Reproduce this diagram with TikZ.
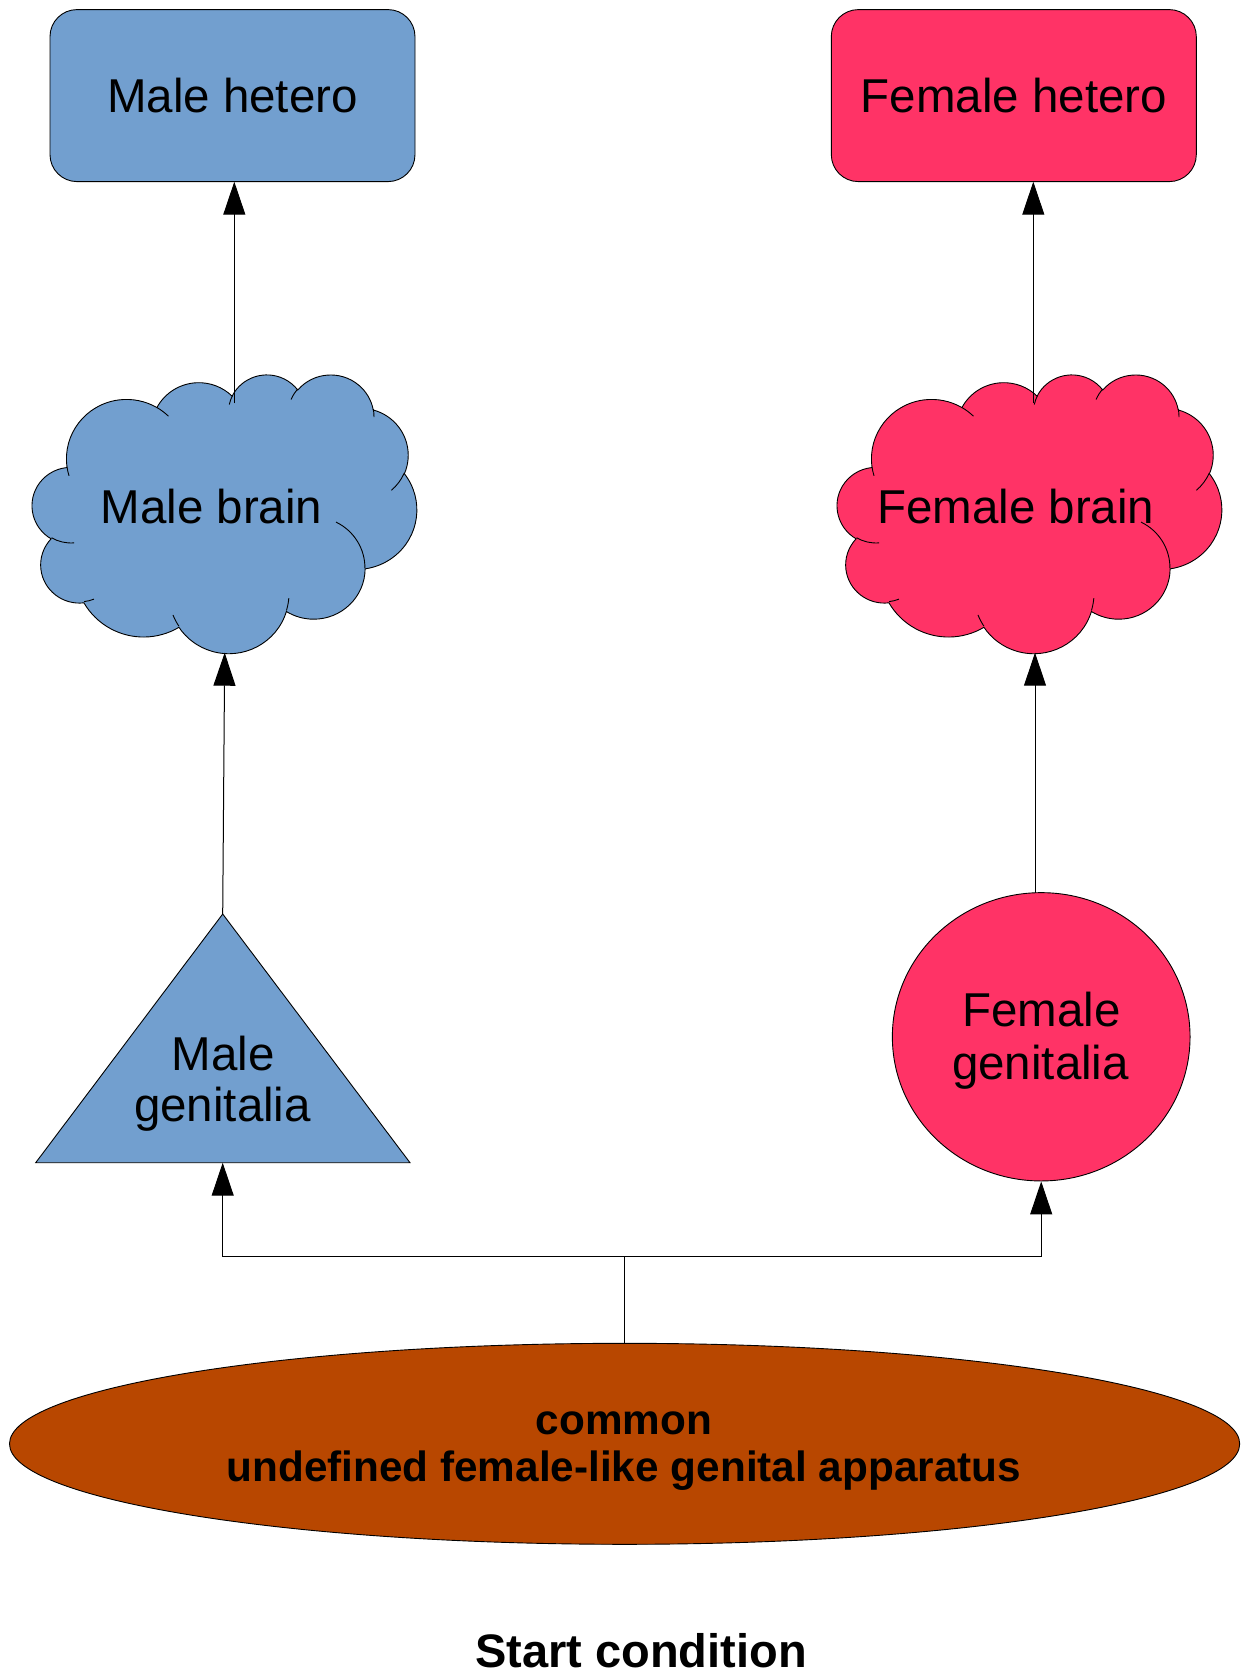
\documentclass[tikz,border=0pt]{standalone}
\usepackage{fontspec}
\setmainfont{Liberation Sans}
\usetikzlibrary{arrows.meta,shapes.geometric}
\definecolor{mblue}{HTML}{729FCF}
\definecolor{fpink}{HTML}{FF3366}
\definecolor{cbrown}{HTML}{B84700}
\tikzset{
  oa/.style n args={4}{insert path={arc[x radius=#1, y radius=#2,
     start angle={atan2(#1*sin(#3),#2*cos(#3))},
     delta angle={mod(atan2(#1*sin(#3+#4),#2*cos(#3+#4))-atan2(#1*sin(#3),#2*cos(#3))+720,360)}]}},
  txt/.style={font=\fontsize{47.5}{52}\selectfont, inner sep=0pt},
  btxt/.style={font=\fontsize{42.3}{47}\selectfont\bfseries, inner sep=0pt},
  shapeline/.style={draw=black, line width=0.9pt},
  hbox/.style={shapeline, rounded corners=27pt, minimum width=365pt, minimum height=172pt, inner sep=0pt,
     font=\fontsize{47.5}{52}\selectfont},
  conn/.style={line width=1pt, draw=black},
  arr/.style={conn, -{Triangle[length=33pt,width=22pt]}}
}
\newcommand\cloudshape[2]{%
\begin{scope}[xshift=#1pt, yshift=-374pt, x=0.88981pt, y=-0.64514pt]
 \path[shapeline, fill=#2] (39.00,143.70)
   [oa={67.53}{91.90}{-190.4875}{123.7805}]
   [oa={53.33}{72.67}{-144.1024}{89.9452}]
   [oa={43.65}{59.45}{-145.8079}{99.7230}]
   [oa={48.57}{65.95}{-130.9861}{117.2417}]
   [oa={53.33}{72.73}{-78.7089}{109.0269}]
   [oa={67.75}{92.20}{-46.2673}{130.2690}]
   [oa={57.85}{78.67}{0.6250}{114.0333}]
   [oa={67.52}{92.15}{22.4516}{115.1726}]
   [oa={77.20}{105.43}{66.2426}{75.7110}]
   [oa={43.60}{59.18}{-274.9421}{146.7356}]
   [oa={43.45}{59.45}{-246.8285}{152.5189}] -- cycle;
 \path[shapeline]
   (46.93,261.77) [oa={43.45}{59.45}{86.742}{26.4295}]
   (69.28,348.99) [oa={43.60}{59.18}{73.6105}{11.4475}]
   (164.78,390.90) [oa={67.52}{92.15}{137.6242}{14.0811}]
   (288.27,347.51) [oa={67.52}{92.15}{6.4533}{15.9984}]
   (341.29,229.54) [oa={57.85}{78.67}{-70.2924}{70.9174}]
   (417.98,153.54) [oa={53.33}{72.73}{30.3180}{27.7515}]
   (383.24,54.26) [oa={48.57}{65.95}{-13.7443}{14.8589}]
   (290.78,39.52) [oa={48.57}{65.95}{-149.1815}{18.1954}]
   (221.41,47.20) [oa={43.65}{59.45}{-163.4943}{17.6864}]
   (140.00,51.92) [oa={67.53}{91.90}{-66.7070}{12.3194}]
   (41.27,157.89) [oa={67.53}{91.90}{157.6544}{11.8582}];
\end{scope}}
\begin{document}
\begin{tikzpicture}[x=1pt, y=-1pt]
\useasboundingbox (0,0) rectangle (1244,1675);

% top boxes
\node[hbox, fill=mblue] (mhet) at (232.5,95.6) {Male hetero};
\node[hbox, fill=fpink] (fhet) at (1013.8,95.6) {Female hetero};
\coordinate (mhetB) at (234.3,181.7);
\coordinate (fhetB) at (1033.3,181.7);

% clouds
\cloudshape{32.3}{mblue}
\cloudshape{837.3}{fpink}
\node[txt, anchor=base] (mbrain) at (211.5,523) {Male brain};
\node[txt, anchor=base] (fbrain) at (1015.8,523) {Female brain};
\coordinate (mbrainT) at (234.3,403.3);
\coordinate (mbrainB) at (224.7,652.7);
\coordinate (fbrainT) at (1033.3,403.3);
\coordinate (fbrainB) at (1035,652.7);

% male genitalia triangle
\coordinate (mgA) at (222.7,914);
\coordinate (mgL) at (35.7,1162.7);
\coordinate (mgR) at (410,1162.7);
\coordinate (mgB) at (222.7,1162.7);
\path[shapeline, fill=mblue] (mgA) -- (mgR) -- (mgL) -- cycle;
\node[txt, anchor=base] (mg1) at (223,1070) {Male};
\node[txt, anchor=base] (mg2) at (222.5,1121.7) {genitalia};

% female genitalia circle
\node[shapeline, ellipse, fill=fpink, minimum width=297.7pt, minimum height=288.3pt, inner sep=0pt] (fg) at (1041.2,1036.8) {};
\node[txt, anchor=base] (fg1) at (1041.3,1026.7) {Female};
\node[txt, anchor=base] (fg2) at (1040.5,1079.3) {genitalia};
\coordinate (fgT) at (1035,892.7);

% common ellipse
\node[shapeline, ellipse, fill=cbrown, minimum width=1230.2pt, minimum height=201pt, inner sep=0pt] (common) at (624.6,1443.8) {};
\node[btxt, anchor=base] (c1) at (623.8,1434) {common};
\node[btxt, anchor=base] (c2) at (623.8,1481.7) {undefined female-like genital apparatus};

% title
\node[font=\fontsize{47}{52}\selectfont\bfseries, inner sep=0pt, anchor=base] (start) at (641,1667.5) {Start condition};

% connectors
\coordinate (split) at (624.6,1256.8);
\draw[conn] (common.north) -- (split);
\draw[arr] (split) -| (mgB);
\draw[arr] (split) -| (fg.south);
\draw[arr] (mgA) -- (mbrainB);
\draw[arr] (fgT) -- (fbrainB);
\draw[arr] (mbrainT) -- (mhetB);
\draw[arr] (fbrainT) -- (fhetB);
\end{tikzpicture}
\end{document}
